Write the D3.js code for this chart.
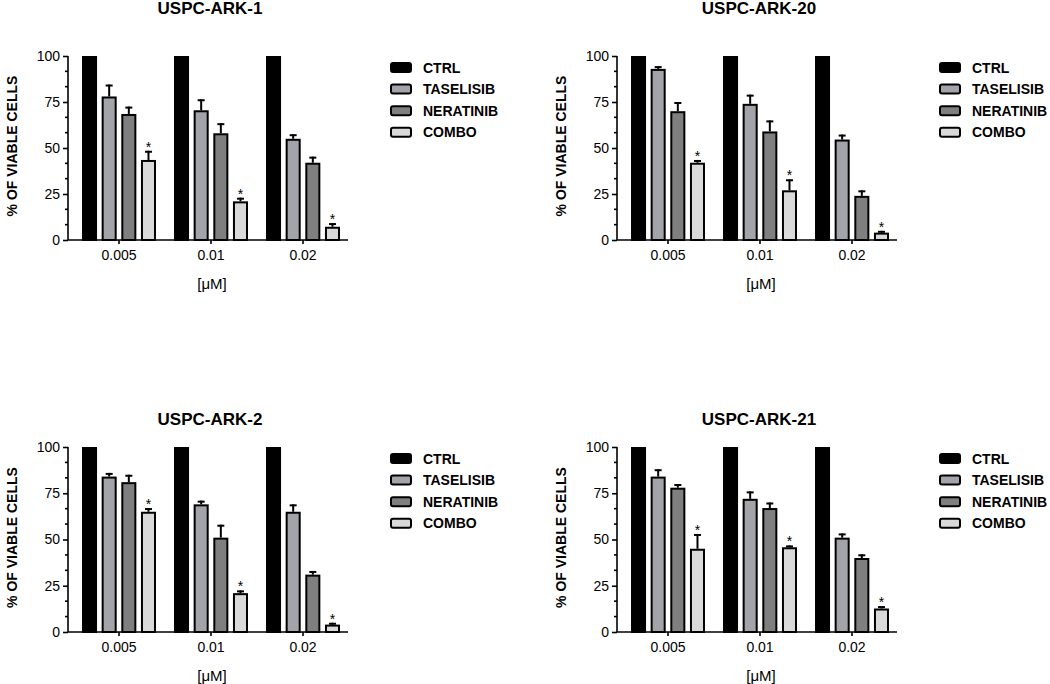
<!DOCTYPE html>
<html>
<head>
<meta charset="utf-8">
<script src="https://cdn.jsdelivr.net/npm/d3@7"></script>
<style>
  body { margin: 0; background: #fff; }
  text { font-family: "Liberation Sans", Arial, sans-serif; fill: #000; }
</style>
</head>
<body>
<div id="container"></div>
<script>
// data
var concentrations = ["0.005", "0.01", "0.02"]
var seriesNames = ["CTRL", "TASELISIB", "NERATINIB", "COMBO"]
var seriesColors = ["#000000", "#a3a3aa", "#7f7f7f", "#d9d9d9"]
var yTicks = [0, 25, 50, 75, 100]
var titles = ["USPC-ARK-1", "USPC-ARK-20", "USPC-ARK-2", "USPC-ARK-21"]

// rows = series (CTRL, TASELISIB, NERATINIB, COMBO), cols = concentrations
var ark1Means = [[100, 100, 100], [78, 70.5, 55], [68.5, 58, 42], [43.5, 21, 7.2]]
var ark1Errs = [[0, 0, 0], [6.5, 6, 2.5], [4, 5.5, 3.3], [5, 2, 2]]
var ark20Means = [[100, 100, 100], [93, 74, 54.6], [70, 59, 24], [42, 27, 4]]
var ark20Errs = [[0, 0, 0], [1.5, 5, 2.7], [5, 6, 3], [1.5, 6, 1]]
var ark2Means = [[100, 100, 100], [84, 69, 65], [81, 51, 31], [65, 21, 4]]
var ark2Errs = [[0, 0, 0], [2, 2, 4], [4, 7, 2], [2, 1.5, 1]]
var ark21Means = [[100, 100, 100], [84, 72, 51], [78, 67, 40], [45, 45.8, 12.7]]
var ark21Errs = [[0, 0, 0], [4, 4, 2.3], [2, 3, 2], [8, 1, 1.3]]
var starred = "COMBO"

var allMeans = [ark1Means, ark20Means, ark2Means, ark21Means]
var allErrs = [ark1Errs, ark20Errs, ark2Errs, ark21Errs]

// panel placement
var layout = [
  { left: 68, top: 56, bottom: 240, titleY: 14 },
  { left: 617, top: 56, bottom: 240, titleY: 14 },
  { left: 68, top: 447, bottom: 632, titleY: 425 },
  { left: 617, top: 447, bottom: 632, titleY: 425 }
]
var axisWidth = 280

var svg = d3.select("#container")
  .append("svg")
  .attr("width", 1050)
  .attr("height", 684)

function drawPanel(p, i) {
  var L = layout[i]
  var g = svg.append("g")

  var x0 = d3.scaleBand()
    .domain(concentrations)
    .range([L.left + 5, L.left + 5 + 276])
  var x1 = d3.scaleBand()
    .domain(seriesNames)
    .range([9, 83])
    .paddingInner(0.235)
    .paddingOuter(0)
  var y = d3.scaleLinear().domain([0, 100]).range([L.bottom, L.top])

  var rows = []
  seriesNames.forEach(function(s, si) {
    concentrations.forEach(function(c, ci) {
      rows.push({ s: s, si: si, c: c, v: allMeans[i][si][ci], e: allErrs[i][si][ci] })
    })
  })
  var cx = (d) => x0(d.c) + x1(d.s) + x1.bandwidth() / 2

  // bars
  g.selectAll("rect.bar")
    .data(rows)
    .enter()
    .append("rect")
    .attr("class", "bar")
    .attr("x", (d) => x0(d.c) + x1(d.s) + 1)
    .attr("y", (d) => y(d.v) + 1)
    .attr("width", x1.bandwidth() - 2)
    .attr("height", (d) => y(0) - y(d.v) - 1)
    .style("fill", (d) => seriesColors[d.si])
    .attr("stroke", "#000")
    .style("stroke-width", 2)

  // error bars (upper only)
  var withErr = rows.filter((d) => d.e > 0)
  g.selectAll("line.err")
    .data(withErr)
    .enter()
    .append("line")
    .attr("x1", cx)
    .attr("x2", cx)
    .attr("y1", (d) => y(d.v))
    .attr("y2", (d) => y(d.v + d.e))
    .attr("stroke", "#000")
    .style("stroke-width", 2)
  g.selectAll("line.cap")
    .data(withErr)
    .enter()
    .append("line")
    .attr("x1", (d) => cx(d) - 3.5)
    .attr("x2", (d) => cx(d) + 3.5)
    .attr("y1", (d) => y(d.v + d.e) + 1)
    .attr("y2", (d) => y(d.v + d.e) + 1)
    .attr("stroke", "#000")
    .style("stroke-width", 2)

  // significance stars
  g.selectAll("text.star")
    .data(rows.filter((d) => d.s === starred))
    .enter()
    .append("text")
    .attr("x", cx)
    .attr("y", (d) => y(d.v + d.e) + 1)
    .attr("text-anchor", "middle")
    .style("font-size", "14px")
    .text("*")

  // y axis
  var yAxis = g.append("g")
    .attr("transform", "translate(" + L.left + ",0)")
    .call(d3.axisLeft(y).tickValues(yTicks).tickSize(5).tickPadding(3))
  yAxis.selectAll("text").style("font-size", "14px")
  yAxis.select(".domain").attr("d", "M0," + y(0) + "V" + y(100))
  var minor = d3.range(0, 100, 25 / 3).filter((v) => Math.round(v) % 25 !== 0)
  yAxis.selectAll("line.minor")
    .data(minor)
    .enter()
    .append("line")
    .attr("x1", -3).attr("x2", 0)
    .attr("y1", (d) => y(d)).attr("y2", (d) => y(d))
    .attr("stroke", "#000")
  yAxis.selectAll("path, line").style("stroke-width", 1.6)

  // x axis
  var xAxis = g.append("g")
    .attr("transform", "translate(0," + L.bottom + ")")
    .call(d3.axisBottom(x0).tickSize(4).tickPadding(6))
  xAxis.select(".domain").attr("d", "M" + L.left + ",0H" + (L.left + axisWidth))
  xAxis.selectAll("text").style("font-size", "14px")
  xAxis.selectAll("path, line").style("stroke-width", 1.6)

  // labels
  g.append("text")
    .attr("x", L.left + axisWidth / 2 + 2)
    .attr("y", L.titleY)
    .attr("text-anchor", "middle")
    .style("font-size", "17px")
    .style("font-weight", "bold")
    .text(titles[i])
  g.append("text")
    .attr("x", L.left + axisWidth / 2 + 4)
    .attr("y", L.bottom + 49)
    .attr("text-anchor", "middle")
    .style("font-size", "15px")
    .text("[\u03bcM]")
  g.append("text")
    .attr("transform", "translate(" + (L.left - 51) + "," + ((L.top + L.bottom) / 2 - 2) + ") rotate(-90)")
    .attr("text-anchor", "middle")
    .style("font-size", "14px")
    .style("font-weight", "bold")
    .text("% OF VIABLE CELLS")

  // legend
  var leg = g.selectAll("g.legend")
    .data(seriesNames)
    .enter()
    .append("g")
    .attr("transform", (d, k) => "translate(" + (L.left + 323) + "," + (L.top + 11.5 + k * 21.6) + ")")
  leg.append("rect")
    .attr("x", 0).attr("y", -4.5)
    .attr("width", 20).attr("height", 9)
    .attr("rx", 2)
    .style("fill", (d, k) => seriesColors[k])
    .attr("stroke", "#000")
    .style("stroke-width", 2)
  leg.append("text")
    .attr("x", 32)
    .attr("y", 5)
    .style("font-size", "14px")
    .style("font-weight", "bold")
    .text((d) => d)
}

titles.forEach(drawPanel)
</script>
</body>
</html>
